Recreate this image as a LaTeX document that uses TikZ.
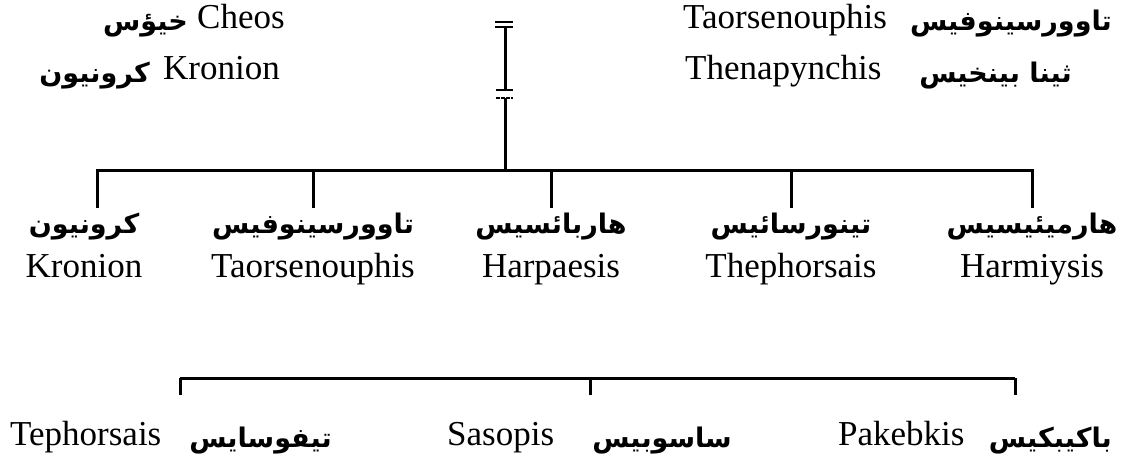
\documentclass[tikz,border=0pt]{standalone}
\usepackage{fontspec}
\setmainfont{Liberation Serif}
\newfontfamily\arabicfont[Script=Arabic]{DejaVu Sans}
\TeXXeTstate=1
\newcommand\artext[1]{\beginR #1\endR}

\tikzset{
  bar/.style={line width=3pt},
  latin/.style={inner sep=0pt, font=\fontsize{35}{40}\selectfont},
  arab/.style={inner sep=0pt, text height=25pt, text depth=8pt,
    font=\fontsize{27}{32}\selectfont\arabicfont\bfseries},
}

\begin{document}
\begin{tikzpicture}[x=1pt,y=-1pt]
  \useasboundingbox (0,0) rectangle (1122,460);
  % parents
  \node[latin, anchor=base west] (cheos) at (197,29) {Cheos};
  \node[arab, anchor=base east] (cheos-ar) at (188,31) {\artext{خيؤس}};
  \node[latin, anchor=base west] (kronos) at (163,80) {Kronion};
  \node[arab, anchor=base east] (kronos-ar) at (150,82) {\artext{كرونيون}};
  \node[latin, anchor=base west] (taor) at (683,29) {Taorsenouphis};
  \node[arab, anchor=base east] (taor-ar) at (1112,31) {\artext{تاوورسينوفيس}};
  \node[latin, anchor=base west] (then) at (685,80) {Thenapynchis};
  \node[arab, anchor=base east] (then-ar) at (1072,82) {\artext{ثينا بينخيس}};
  % line of descent
  \coordinate (root) at (505,27);
  \coordinate (brk) at (505,94);
  \coordinate (split) at (505,170);
  \draw[line width=2pt] (root) ++(-10,-5) -- ++(18,0) ++(-18,5) -- ++(18,0);
  \draw[bar] (root) -- ([yshift=4pt]brk);
  \draw[line width=2pt] ([xshift=-9pt,yshift=4pt]brk) -- ([xshift=8pt,yshift=4pt]brk);
  \draw[line width=2pt,dashed,dash pattern=on 4pt off 1pt] ([xshift=-9pt,yshift=-4pt]brk) -- ([xshift=8pt,yshift=-4pt]brk);
  \draw[bar] ([yshift=-4pt]brk) -- (split);
  % children
  \foreach \n/\x/\aw/\lw in {kro/84/كرونيون/Kronion, tao/313/تاوورسينوفيس/Taorsenouphis,
      hrp/551/هاربائسيس/Harpaesis, thp/791/تينورسائيس/Thephorsais,
      hmy/1032/هارميئيسيس/Harmiysis} {
    \node[arab, anchor=base] (\n-ar) at (\x,233) {\artext{\aw}};
    \node[latin, anchor=base] (\n) at (\x,277) {\lw};
  }
  \draw[bar] ([xshift=13pt]kro-ar.north) |- (split) -| (hmy-ar.north);
  \foreach \n in {tao,hrp,thp}
    \draw[bar] (\n-ar.north) -- (\n-ar.north |- split);
  % second row
  \node[latin, anchor=base west] (teph) at (10,445) {Tephorsais};
  \node[arab, anchor=base east] (teph-ar) at (332,447) {\artext{تيفوسايس}};
  \node[latin, anchor=base west] (saso) at (447,445) {Sasopis};
  \node[arab, anchor=base east] (saso-ar) at (732,447) {\artext{ساسوبيس}};
  \node[latin, anchor=base west] (pake) at (838,445) {Pakebkis};
  \node[arab, anchor=base east] (pake-ar) at (1112,447) {\artext{باكيبكيس}};
  \coordinate (b1) at (180,378);
  \coordinate (b2) at (590,378);
  \coordinate (b3) at (1015,378);
  \draw[bar] (b1) -- (b3);
  \draw[bar, shorten >=27pt] (b1) -- (b1 |- teph-ar.north);
  \draw[bar, shorten >=27pt] (b2) -- (b2 |- saso-ar.north);
  \draw[bar, shorten >=27pt] (b3) -- (b3 |- pake-ar.north);
\end{tikzpicture}
\end{document}
